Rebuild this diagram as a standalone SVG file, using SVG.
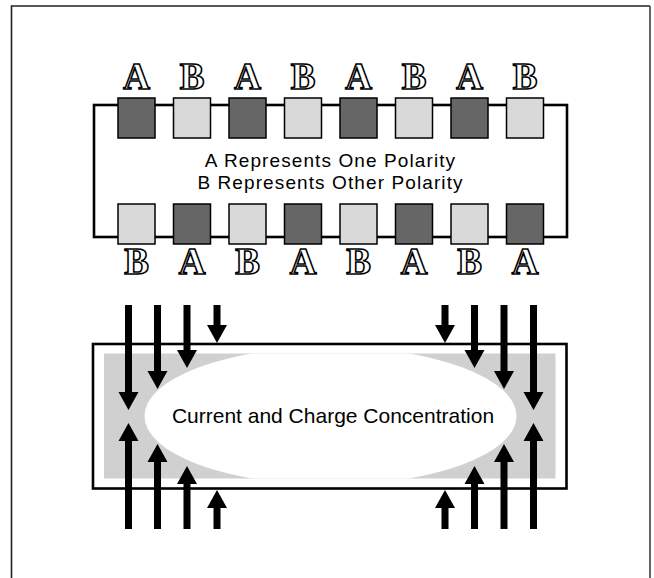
<svg xmlns="http://www.w3.org/2000/svg" width="654" height="578" viewBox="0 0 654 578">
<style>
.wire{fill:none;stroke:#000;stroke-width:2.6}
.a{fill:#666;stroke:#000;stroke-width:1.5}
.b{fill:#d9d9d9;stroke:#000;stroke-width:1.5}
.lt{font-family:"Liberation Serif","DejaVu Serif",serif;font-weight:bold;font-size:37px;fill:#fff;stroke:#000;stroke-width:1.6;text-anchor:middle}
.tx{font-family:"Liberation Sans",Arial,sans-serif;font-size:21px;fill:#000;text-anchor:middle}
.lg{font-family:"Liberation Sans",Arial,sans-serif;font-size:19px;letter-spacing:1.1px;fill:#000;text-anchor:middle}
.arr{fill:#000}
</style>
<rect width="654" height="578" fill="#fff"/>
<g id="frame">
<path d="M11.5,578 V6 H650" fill="none" stroke="#222" stroke-width="1.6"/>
<path d="M650,6 V578" fill="none" stroke="#555" stroke-width="1.8"/>
</g>
<g id="circuit">
<rect class="wire" x="94" y="105" width="473" height="132"/>
</g>
<g id="top-cells">
<rect class="a" x="118" y="98" width="37" height="40"/>
<rect class="b" x="173.5" y="98" width="37" height="40"/>
<rect class="a" x="229" y="98" width="37" height="40"/>
<rect class="b" x="284.5" y="98" width="37" height="40"/>
<rect class="a" x="340" y="98" width="37" height="40"/>
<rect class="b" x="395.5" y="98" width="37" height="40"/>
<rect class="a" x="451" y="98" width="37" height="40"/>
<rect class="b" x="506.5" y="98" width="37" height="40"/>
</g>
<g id="bottom-cells">
<rect class="b" x="118" y="204" width="37" height="40"/>
<rect class="a" x="173.5" y="204" width="37" height="40"/>
<rect class="b" x="229" y="204" width="37" height="40"/>
<rect class="a" x="284.5" y="204" width="37" height="40"/>
<rect class="b" x="340" y="204" width="37" height="40"/>
<rect class="a" x="395.5" y="204" width="37" height="40"/>
<rect class="b" x="451" y="204" width="37" height="40"/>
<rect class="a" x="506.5" y="204" width="37" height="40"/>
</g>
<g id="top-labels">
<text class="lt" x="136.5" y="89">A</text>
<text class="lt" x="192" y="89">B</text>
<text class="lt" x="247.5" y="89">A</text>
<text class="lt" x="303" y="89">B</text>
<text class="lt" x="358.5" y="89">A</text>
<text class="lt" x="414" y="89">B</text>
<text class="lt" x="469.5" y="89">A</text>
<text class="lt" x="525" y="89">B</text>
</g>
<g id="bottom-labels">
<text class="lt" x="136.5" y="274">B</text>
<text class="lt" x="192" y="274">A</text>
<text class="lt" x="247.5" y="274">B</text>
<text class="lt" x="303" y="274">A</text>
<text class="lt" x="358.5" y="274">B</text>
<text class="lt" x="414" y="274">A</text>
<text class="lt" x="469.5" y="274">B</text>
<text class="lt" x="525" y="274">A</text>
</g>
<g id="legend">
<text class="lg" x="330.5" y="167">A Represents One Polarity</text>
<text class="lg" x="330.5" y="188.5">B Represents Other Polarity</text>
</g>
<g id="conductor">
<defs><clipPath id="cp"><rect x="104" y="353.5" width="451.5" height="125"/></clipPath></defs>
<rect x="93" y="344" width="473.5" height="144.5" fill="#fff" stroke="#000" stroke-width="2.6"/>
<rect x="104" y="353.5" width="451.5" height="125" fill="#d0d0d0"/>
<ellipse cx="330.5" cy="416" rx="186" ry="69" fill="#fff" clip-path="url(#cp)"/>
<text class="tx" x="333" y="423">Current and Charge Concentration</text>
</g>
<g id="connectors" class="arr">
<path d="M125,305 H132 V392 H138.5 L128.5,410 L118.5,392 H125 Z"/>
<path d="M154,305 H161 V371 H167.5 L157.5,389 L147.5,371 H154 Z"/>
<path d="M183.5,305 H190.5 V350 H197 L187,368 L177,350 H183.5 Z"/>
<path d="M213.5,305 H220.5 V325 H227 L217,343 L207,325 H213.5 Z"/>
<path d="M441.5,305 H448.5 V325 H455 L445,343 L435,325 H441.5 Z"/>
<path d="M471,305 H478 V350 H484.5 L474.5,368 L464.5,350 H471 Z"/>
<path d="M500.5,305 H507.5 V371 H514 L504,389 L494,371 H500.5 Z"/>
<path d="M530,305 H537 V392 H543.5 L533.5,410 L523.5,392 H530 Z"/>
<path d="M125,529 H132 V441 H138.5 L128.5,423 L118.5,441 H125 Z"/>
<path d="M154,529 H161 V462 H167.5 L157.5,444 L147.5,462 H154 Z"/>
<path d="M183.5,529 H190.5 V484 H197 L187,466 L177,484 H183.5 Z"/>
<path d="M213.5,529 H220.5 V508 H227 L217,490 L207,508 H213.5 Z"/>
<path d="M441.5,529 H448.5 V508 H455 L445,490 L435,508 H441.5 Z"/>
<path d="M471,529 H478 V484 H484.5 L474.5,466 L464.5,484 H471 Z"/>
<path d="M500.5,529 H507.5 V462 H514 L504,444 L494,462 H500.5 Z"/>
<path d="M530,529 H537 V441 H543.5 L533.5,423 L523.5,441 H530 Z"/>
</g>
</svg>
